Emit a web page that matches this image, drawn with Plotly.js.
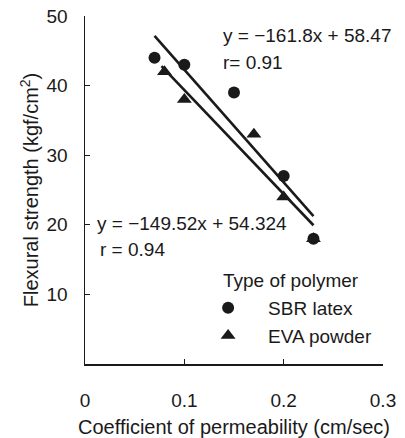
<!DOCTYPE html>
<html>
<head>
<meta charset="utf-8">
<script src="https://cdn.plot.ly/plotly-3.0.1.min.js"></script>
<style>html,body{margin:0;padding:0;background:#fff;}#chart{width:405px;height:438px;}</style>
</head>
<body>
<div id="chart"></div>
<script>
// Data
const sbrX = [0.07, 0.10, 0.15, 0.20, 0.23];
const sbrY = [44, 43, 39, 27, 18];
const evaX = [0.08, 0.10, 0.17, 0.20, 0.23];
const evaY = [42, 38, 33, 24, 18];
// Regression lines (from the printed equations)
const sbrFitX = [0.07, 0.23];
const sbrSlope = -161.8, sbrIntercept = 58.47;
const evaFitX = [0.077, 0.23];
const evaSlope = -149.52, evaIntercept = 54.324;
const xTicks = [0, 0.1, 0.2, 0.3];
const xTickText = ['0', '0.1', '0.2', '0.3'];
const yTicks = [10, 20, 30, 40, 50];

const ink = '#1a1a1a';
const fam = 'Liberation Sans, Arial, sans-serif';
const font = {family: fam, size: 19, color: ink};
const titleFont = {family: fam, size: 20, color: ink};

const traces = [
  {x: sbrFitX, y: sbrFitX.map(v => sbrSlope * v + sbrIntercept), mode: 'lines',
   line: {color: ink, width: 2.6}, showlegend: false, hoverinfo: 'skip'},
  {x: evaFitX, y: evaFitX.map(v => evaSlope * v + evaIntercept), mode: 'lines',
   line: {color: ink, width: 2.6}, showlegend: false, hoverinfo: 'skip'},
  {x: sbrX, y: sbrY, mode: 'markers', name: 'SBR latex', legendgroup: 'a',
   marker: {symbol: 'circle', size: 12, color: ink}},
  {x: evaX, y: evaY, mode: 'markers', name: 'EVA powder', legendgroup: 'b',
   marker: {symbol: 'triangle-up', size: 13, color: ink}}
];

const layout = {
  width: 405, height: 438,
  margin: {l: 85, r: 22, t: 16, b: 74},
  paper_bgcolor: '#fff', plot_bgcolor: '#fff',
  font: font,
  showlegend: true,
  legend: {
    x: 0.346, y: 0.2155, xanchor: 'left', yanchor: 'top',
    bgcolor: 'rgba(0,0,0,0)', font: font,
    traceorder: 'grouped', tracegroupgap: 0, itemwidth: 70
  },
  xaxis: {
    range: [0, 0.3], tickvals: xTicks, ticktext: xTickText,
    showgrid: false, zeroline: false, showline: true, linecolor: ink, linewidth: 1.5,
    ticks: 'inside', ticklen: 5, tickcolor: ink, tickwidth: 1.2,
    ticklabelstandoff: 19, tickfont: font,
    title: {text: 'Coefficient of permeability (cm/sec)', font: titleFont, standoff: 10}
  },
  yaxis: {
    range: [0, 50], tickvals: yTicks,
    showgrid: false, zeroline: false, showline: true, linecolor: ink, linewidth: 1.5,
    ticks: 'inside', ticklen: 5, tickcolor: ink, tickwidth: 1.2,
    ticklabelstandoff: 12, tickfont: font,
    title: {text: 'Flexural strength (kgf/cm<sup>2</sup>)', font: titleFont, standoff: 2}
  },
  annotations: [
    {xref: 'paper', yref: 'paper', x: 0.455, y: 0.945, xanchor: 'left', yanchor: 'middle',
     text: 'y = −161.8x + 58.47', showarrow: false, font: font},
    {xref: 'paper', yref: 'paper', x: 0.455, y: 0.865, xanchor: 'left', yanchor: 'middle',
     text: 'r= 0.91', showarrow: false, font: font},
    {xref: 'paper', yref: 'paper', x: 0.035, y: 0.405, xanchor: 'left', yanchor: 'middle',
     text: 'y = −149.52x + 54.324', showarrow: false, font: font},
    {xref: 'paper', yref: 'paper', x: 0.045, y: 0.328, xanchor: 'left', yanchor: 'middle',
     text: 'r = 0.94', showarrow: false, font: font},
    {xref: 'paper', yref: 'paper', x: 0.458, y: 0.241, xanchor: 'left', yanchor: 'middle',
     text: 'Type of polymer', showarrow: false, font: font}
  ]
};

Plotly.newPlot('chart', traces, layout, {displayModeBar: false, staticPlot: true});
</script>
</body>
</html>
